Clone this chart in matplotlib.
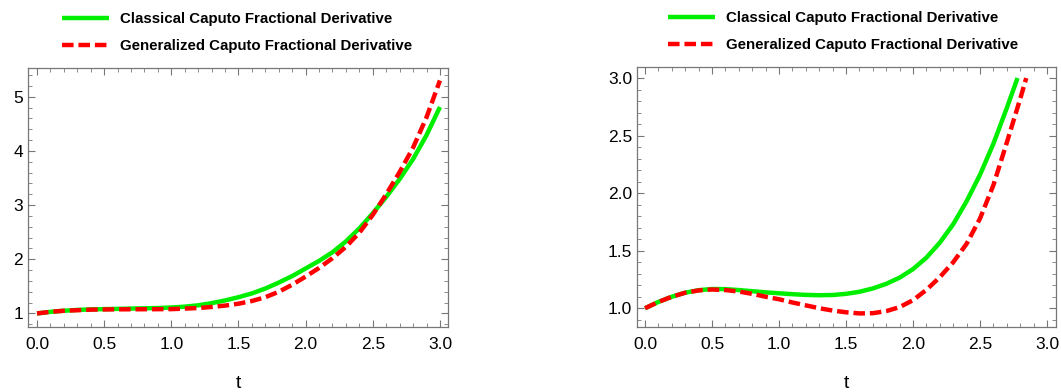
# Classical vs generalized Caputo fractional derivative, two panels
import matplotlib
matplotlib.use('Agg')
import matplotlib.pyplot as plt
from matplotlib.ticker import MultipleLocator

plt.rcParams['font.family'] = ['Liberation Sans', 'DejaVu Sans']

# data ######################################################
t_left = [0.0, 0.1, 0.2, 0.3, 0.4, 0.5, 0.6, 0.7, 0.8, 0.9, 1.0,
          1.1, 1.2, 1.3, 1.4, 1.5, 1.6, 1.7, 1.8, 1.9, 2.0,
          2.1, 2.2, 2.3, 2.4, 2.5, 2.6, 2.7, 2.8, 2.9, 3.0]
classical_left = [1.00, 1.03, 1.05, 1.065, 1.075, 1.08, 1.085, 1.09, 1.095, 1.10, 1.11,
                  1.125, 1.15, 1.19, 1.24, 1.30, 1.37, 1.46, 1.57, 1.69, 1.83,
                  1.97, 2.13, 2.33, 2.57, 2.85, 3.15, 3.48, 3.85, 4.29, 4.81]
generalized_left = [1.00, 1.03, 1.05, 1.06, 1.07, 1.074, 1.076, 1.077, 1.078, 1.079, 1.08,
                    1.09, 1.10, 1.12, 1.145, 1.18, 1.23, 1.30, 1.40, 1.53, 1.68,
                    1.84, 2.02, 2.23, 2.49, 2.82, 3.20, 3.61, 4.06, 4.62, 5.30]

t_right_c = [0.0, 0.1, 0.2, 0.3, 0.4, 0.5, 0.6, 0.7, 0.8, 0.9, 1.0,
             1.1, 1.2, 1.3, 1.4, 1.5, 1.6, 1.7, 1.8, 1.9, 2.0,
             2.1, 2.2, 2.3, 2.4, 2.5, 2.6, 2.7, 2.78]
classical_right = [1.00, 1.055, 1.10, 1.135, 1.157, 1.167, 1.166, 1.158, 1.148, 1.138, 1.13,
                   1.122, 1.116, 1.113, 1.115, 1.125, 1.143, 1.172, 1.212, 1.266, 1.34,
                   1.44, 1.57, 1.73, 1.93, 2.16, 2.43, 2.74, 3.00]
t_right_g = [0.0, 0.1, 0.2, 0.3, 0.4, 0.5, 0.6, 0.7, 0.8, 0.9, 1.0,
             1.1, 1.2, 1.3, 1.4, 1.5, 1.6, 1.7, 1.8, 1.9, 2.0,
             2.1, 2.2, 2.3, 2.4, 2.5, 2.6, 2.7, 2.8, 2.845]
generalized_right = [1.00, 1.055, 1.10, 1.135, 1.155, 1.163, 1.158, 1.145, 1.125, 1.10, 1.078,
                     1.05, 1.025, 1.00, 0.98, 0.965, 0.955, 0.957, 0.975, 1.01, 1.07,
                     1.16, 1.27, 1.40, 1.56, 1.78, 2.07, 2.44, 2.82, 3.00]

labels = ['Classical Caputo Fractional Derivative', 'Generalized Caputo Fractional Derivative']

GREEN = '#00ee00'
RED = '#ff0000'
FRAME = '#777777'

W, H = 1061, 392
fig = plt.figure(figsize=(W / 100, H / 100), dpi=100)


def px_axes(x0, x1, y0, y1):
    # pixel box -> figure fraction
    return fig.add_axes([x0 / W, 1 - y1 / H, (x1 - x0) / W, (y1 - y0) / H])


def style(ax, ymaj, ymin):
    ax.xaxis.set_major_locator(MultipleLocator(0.5))
    ax.xaxis.set_minor_locator(MultipleLocator(0.1))
    ax.yaxis.set_major_locator(MultipleLocator(ymaj))
    ax.yaxis.set_minor_locator(MultipleLocator(ymin))
    ax.tick_params(which='both', direction='in', top=True, right=True,
                   color=FRAME, labelsize=12.5, labelcolor='black')
    ax.tick_params(axis='x', which='major', pad=7)
    ax.tick_params(which='major', length=5, width=0.8)
    ax.tick_params(which='minor', length=2.8, width=0.6)
    for s in ax.spines.values():
        s.set_color(FRAME)
        s.set_linewidth(0.9)
    ax.set_xlabel('t', fontsize=14, labelpad=17)


def add_legend(ax, handles, x_px, ax_x0, ax_w, ax_h):
    ax.legend(handles, labels, loc='upper left',
              bbox_to_anchor=((x_px - ax_x0) / ax_w, 1 + 56 / ax_h),
              frameon=False, borderpad=0, borderaxespad=0, handlelength=3.1,
              handletextpad=0.75, labelspacing=0.86,
              prop={'weight': 'bold', 'size': 10.8})


axL = px_axes(28, 448, 68, 327)
lc, = axL.plot(t_left, classical_left, color=GREEN, lw=3.2, solid_capstyle='butt')
lg, = axL.plot(t_left, generalized_left, color=RED, lw=3.2, dashes=(2.6, 1.1))
axL.set_xlim(-0.067, 3.06)
axL.set_ylim(0.75, 5.53)
style(axL, 1, 0.2)
axL.set_xticks([0, 0.5, 1, 1.5, 2, 2.5, 3])
axL.set_xticklabels(['0.0', '0.5', '1.0', '1.5', '2.0', '2.5', '3.0'])
add_legend(axL, [lc, lg], 62, 28, 420, 259)

axR = px_axes(637, 1056, 67, 327)
rc, = axR.plot(t_right_c, classical_right, color=GREEN, lw=3.2, solid_capstyle='butt')
rg, = axR.plot(t_right_g, generalized_right, color=RED, lw=3.2, dashes=(2.6, 1.1))
axR.set_xlim(-0.06, 3.067)
axR.set_ylim(0.837, 3.096)
style(axR, 0.5, 0.1)
axR.set_xticks([0, 0.5, 1, 1.5, 2, 2.5, 3])
axR.set_xticklabels(['0.0', '0.5', '1.0', '1.5', '2.0', '2.5', '3.0'])
axR.set_yticks([1.0, 1.5, 2.0, 2.5, 3.0])
axR.set_yticklabels(['1.0', '1.5', '2.0', '2.5', '3.0'])
add_legend(axR, [rc, rg], 668, 637, 419, 260)

fig.savefig('out.png', dpi=100)
